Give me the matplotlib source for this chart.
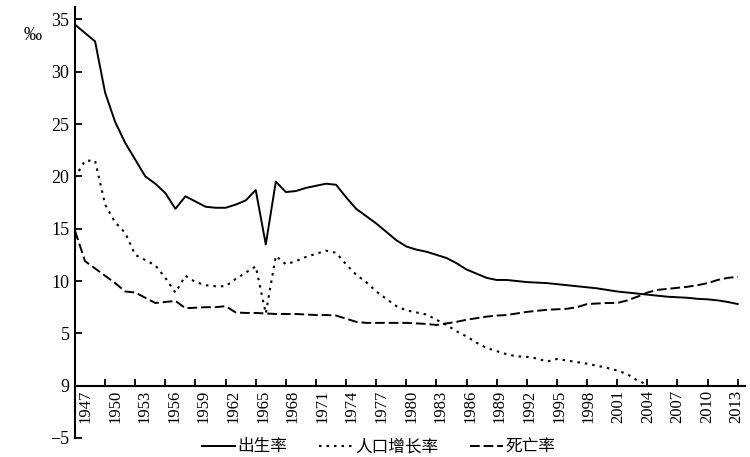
import matplotlib
matplotlib.use('Agg')
import matplotlib.pyplot as plt
import matplotlib.transforms as mtransforms
import numpy as np

plt.rcParams['font.family'] = ['Liberation Serif', 'Noto Sans CJK SC', 'DejaVu Sans']

# 年份
years = np.arange(1947, 2014)

# 出生率 (‰)
birth = [34.5, 33.7, 32.9, 28.0, 25.2, 23.2, 21.6, 20.0, 19.3, 18.4,
         16.9, 18.1, 17.6, 17.1, 17.0, 17.0, 17.3, 17.7, 18.7, 13.5,
         19.5, 18.5, 18.6, 18.9, 19.1, 19.3, 19.2, 18.0, 16.9, 16.2,
         15.5, 14.7, 13.9, 13.3, 13.0, 12.8, 12.5, 12.2, 11.7, 11.1,
         10.7, 10.3, 10.1, 10.1, 10.0, 9.9, 9.85, 9.8, 9.7, 9.6,
         9.5, 9.4, 9.3, 9.15, 9.0, 8.9, 8.8, 8.7, 8.6, 8.5,
         8.45, 8.4, 8.3, 8.25, 8.15, 8.0, 7.8]

# 死亡率 (‰)
death = [14.8, 11.9, 11.2, 10.5, 9.8, 9.0, 8.9, 8.4, 7.9, 8.0,
         8.1, 7.4, 7.45, 7.5, 7.5, 7.6, 7.0, 6.95, 6.95, 6.9,
         6.85, 6.85, 6.85, 6.8, 6.75, 6.75, 6.7, 6.4, 6.1, 6.0,
         6.0, 6.0, 6.0, 6.0, 5.95, 5.9, 5.8, 5.95, 6.1, 6.3,
         6.45, 6.6, 6.7, 6.75, 6.9, 7.05, 7.15, 7.25, 7.3, 7.35,
         7.5, 7.8, 7.85, 7.9, 7.9, 8.15, 8.5, 8.9, 9.15, 9.25,
         9.35, 9.45, 9.6, 9.8, 10.1, 10.3, 10.4]

# 人口增长率 (‰), 1947-2004
growth_years = np.arange(1947, 2005)
growth = [19.9, 21.5, 21.5, 17.3, 15.6, 14.6, 12.5, 12.0, 11.5, 10.3,
          8.9, 10.5, 9.9, 9.6, 9.5, 9.5, 10.2, 10.8, 11.4, 6.9,
          12.4, 11.6, 11.9, 12.3, 12.6, 12.9, 12.7, 11.6, 10.6, 9.9,
          9.0, 8.3, 7.6, 7.2, 7.0, 6.8, 6.3, 5.8, 5.2, 4.7,
          4.1, 3.6, 3.3, 3.0, 2.8, 2.75, 2.6, 2.3, 2.55, 2.4,
          2.25, 2.1, 1.9, 1.7, 1.45, 1.1, 0.5, 0.1]

xtick_years = list(range(1947, 2014, 3))
ytick_vals = [35, 30, 25, 20, 15, 10, 5, 0, -5]
ytick_text = ['35', '30', '25', '20', '15', '10', '5', '9', '\u22125']

fig = plt.figure(figsize=(7.5, 4.57), dpi=100)
ax = fig.add_axes([0.1, 0.0416, 0.893, 0.9434])

ax.plot(years, birth, color='black', lw=1.4, ls='-', label='出生率')
ax.plot(growth_years, growth, color='black', lw=1.5, ls=(0, (1.2, 2.4)), label='人口增长率')
ax.plot(years, death, color='black', lw=1.4, ls=(0, (5, 2)), label='死亡率')

ax.set_xlim(1947, 2013.7)
ax.set_ylim(-5, 36.2)

ax.spines['top'].set_visible(False)
ax.spines['right'].set_visible(False)
ax.spines['bottom'].set_position(('data', 0))
ax.spines['left'].set_linewidth(1.5)
ax.spines['bottom'].set_linewidth(1.5)

ax.set_yticks(ytick_vals)
ax.set_yticklabels(ytick_text, fontsize=13)
ax.set_xticks(xtick_years)
ax.set_xticklabels([str(y) for y in xtick_years], rotation=90, fontsize=12)
ax.tick_params(axis='both', direction='in', length=5, width=1.3, colors='black')
ax.tick_params(axis='x', pad=3)
ax.tick_params(axis='y', pad=4)

# 年份标签向右偏移, 左侧偏得多, 右侧几乎不偏
for y, lab in zip(xtick_years, ax.get_xticklabels()):
    dx = (10.5 - 11.5 * (y - 1947) / 66) / 100
    lab.set_transform(lab.get_transform()
                      + mtransforms.ScaledTranslation(dx, 0, fig.dpi_scale_trans))

fig.text(0.044, 0.923, '‰', fontsize=13, ha='center', va='center')

fig.legend(loc='center', bbox_to_anchor=(0.505, 0.022), ncol=3, frameon=False,
           handlelength=2.0, handletextpad=0.15, columnspacing=1.9,
           prop={'family': ['Noto Sans CJK SC'], 'size': 12})

fig.savefig('out.png', dpi=100)
